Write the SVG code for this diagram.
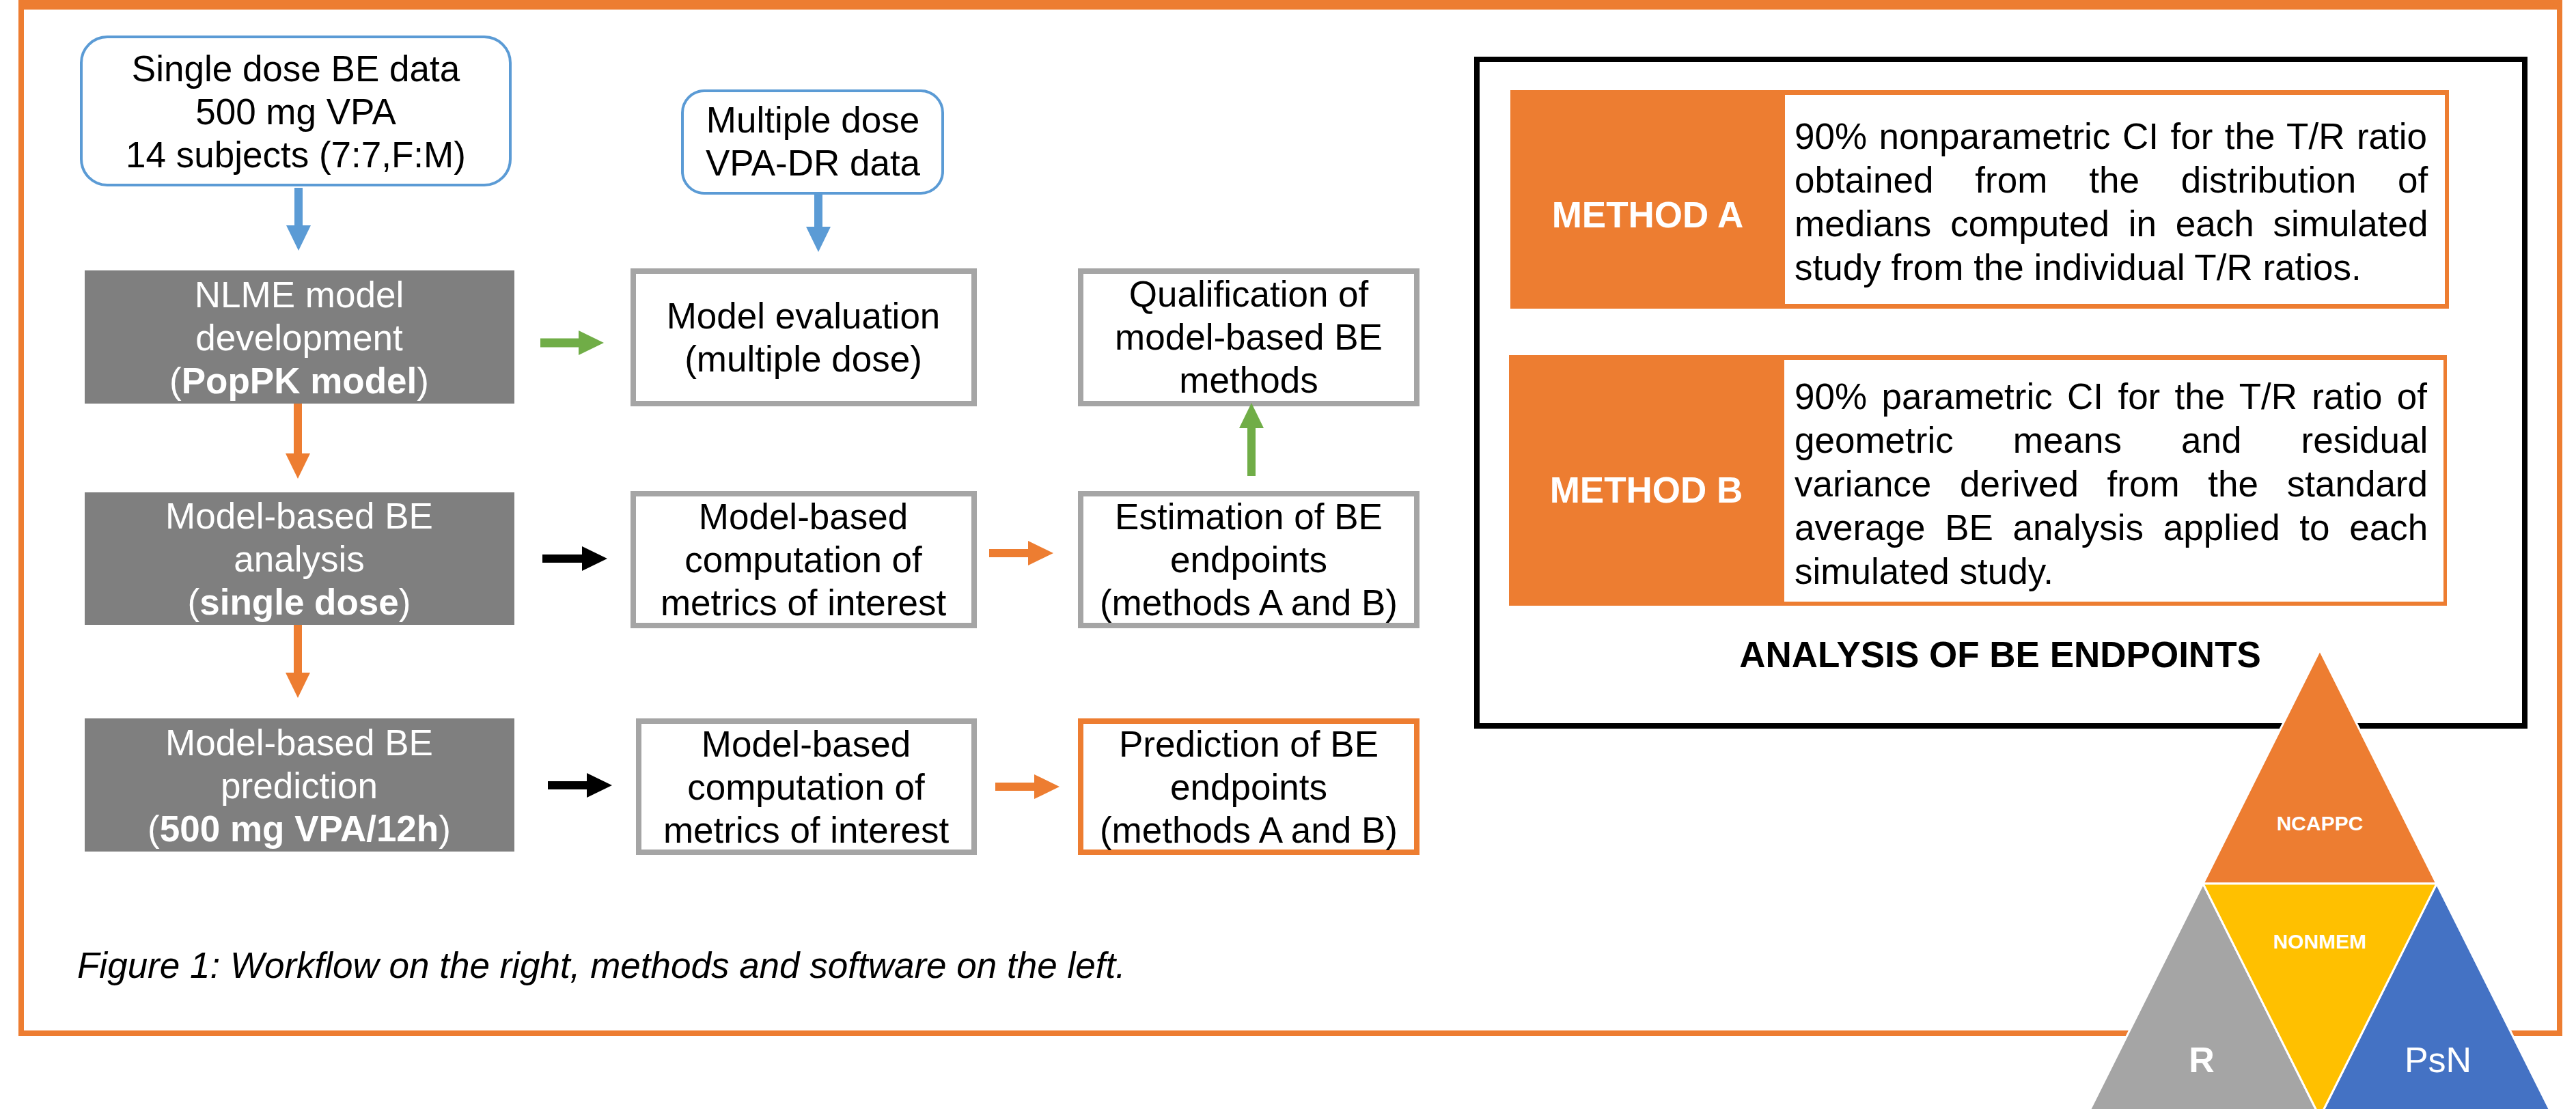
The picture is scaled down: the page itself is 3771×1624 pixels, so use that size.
<svg xmlns="http://www.w3.org/2000/svg" width="3771" height="1624" viewBox="0 0 3771 1624">
<style>
.t{font-family:"Liberation Sans",Arial,sans-serif;font-size:53px;fill:#000}
.c{text-anchor:middle}
.w{fill:#fff}
.b{font-weight:bold}
.s30{font-size:30px}
.s52{font-size:52px}
.gbox{fill:#7f7f7f}
.wbox{fill:#fff;stroke:#a5a5a5;stroke-width:8}
.obox{fill:#fff;stroke:#ed7d31;stroke-width:8}
.rbox{fill:#fff;stroke:#5b9bd5;stroke-width:4}
.conn{fill:none;stroke-width:12}
</style>
<defs>
<marker id="hBlue" markerUnits="userSpaceOnUse" viewBox="0 0 37 36" markerWidth="37" markerHeight="36" refX="1" refY="18" orient="auto"><path d="M0,0 L37,18 L0,36 z" fill="#5b9bd5"/></marker>
<marker id="hOrange" markerUnits="userSpaceOnUse" viewBox="0 0 37 36" markerWidth="37" markerHeight="36" refX="1" refY="18" orient="auto"><path d="M0,0 L37,18 L0,36 z" fill="#ed7d31"/></marker>
<marker id="hGreen" markerUnits="userSpaceOnUse" viewBox="0 0 37 36" markerWidth="37" markerHeight="36" refX="1" refY="18" orient="auto"><path d="M0,0 L37,18 L0,36 z" fill="#70ad47"/></marker>
<marker id="hBlack" markerUnits="userSpaceOnUse" viewBox="0 0 37 36" markerWidth="37" markerHeight="36" refX="1" refY="18" orient="auto"><path d="M0,0 L37,18 L0,36 z" fill="#000"/></marker>
</defs>
<rect width="3771" height="1624" fill="#fff"/>

<g id="frame" fill="#ed7d31">
<rect x="27" y="0" width="3724" height="14"/>
<rect x="27" y="0" width="8" height="1517"/>
<rect x="3743" y="0" width="8" height="1517"/>
<rect x="27" y="1509" width="3724" height="8"/>
</g>

<g id="single-dose-data">
<rect class="rbox" x="119" y="54" width="628" height="217" rx="38"/>
<text class="t c" x="433"><tspan x="433" y="119">Single dose BE data</tspan><tspan x="433" y="182">500 mg VPA</tspan><tspan x="433" y="245">14 subjects (7:7,F:M)</tspan></text>
</g>

<g id="multiple-dose-data">
<rect class="rbox" x="999" y="133" width="381" height="150" rx="32"/>
<text class="t c"><tspan x="1190" y="194">Multiple dose</tspan><tspan x="1190" y="257">VPA-DR data</tspan></text>
</g>

<g id="nlme-model">
<rect class="gbox" x="124" y="396" width="629" height="195"/>
<text class="t c w"><tspan x="438" y="450">NLME model</tspan><tspan x="438" y="513">development</tspan><tspan x="438" y="576">(<tspan class="b">PopPK model</tspan>)</tspan></text>
</g>

<g id="be-analysis">
<rect class="gbox" x="124" y="721" width="629" height="194"/>
<text class="t c w"><tspan x="438" y="774">Model-based BE</tspan><tspan x="438" y="837">analysis</tspan><tspan x="438" y="900">(<tspan class="b">single dose</tspan>)</tspan></text>
</g>

<g id="be-prediction">
<rect class="gbox" x="124" y="1052" width="629" height="195"/>
<text class="t c w"><tspan x="438" y="1106">Model-based BE</tspan><tspan x="438" y="1169">prediction</tspan><tspan x="438" y="1232">(<tspan class="b">500 mg VPA/12h</tspan>)</tspan></text>
</g>

<g id="model-evaluation">
<rect class="wbox" x="927" y="397" width="499" height="194"/>
<text class="t c"><tspan x="1176" y="481">Model evaluation</tspan><tspan x="1176" y="544">(multiple dose)</tspan></text>
</g>

<g id="qualification">
<rect class="wbox" x="1582" y="397" width="492" height="194"/>
<text class="t c"><tspan x="1828" y="449">Qualification of</tspan><tspan x="1828" y="512">model-based BE</tspan><tspan x="1828" y="575">methods</tspan></text>
</g>

<g id="computation-1">
<rect class="wbox" x="927" y="723" width="499" height="193"/>
<text class="t c"><tspan x="1176" y="775">Model-based</tspan><tspan x="1176" y="838">computation of</tspan><tspan x="1176" y="901">metrics of interest</tspan></text>
</g>

<g id="estimation">
<rect class="wbox" x="1582" y="723" width="492" height="193"/>
<text class="t c"><tspan x="1828" y="775">Estimation of BE</tspan><tspan x="1828" y="838">endpoints</tspan><tspan x="1828" y="901">(methods A and B)</tspan></text>
</g>

<g id="computation-2">
<rect class="wbox" x="935" y="1056" width="491" height="192"/>
<text class="t c"><tspan x="1180" y="1108">Model-based</tspan><tspan x="1180" y="1171">computation of</tspan><tspan x="1180" y="1234">metrics of interest</tspan></text>
</g>

<g id="prediction">
<rect class="obox" x="1582" y="1056" width="492" height="192"/>
<text class="t c"><tspan x="1828" y="1108">Prediction of BE</tspan><tspan x="1828" y="1171">endpoints</tspan><tspan x="1828" y="1234">(methods A and B)</tspan></text>
</g>

<g id="connectors" class="conn">
<line x1="437" y1="275" x2="437" y2="331" stroke="#5b9bd5" marker-end="url(#hBlue)"/>
<line x1="1198" y1="283" x2="1198" y2="333" stroke="#5b9bd5" marker-end="url(#hBlue)"/>
<line x1="436" y1="591" x2="436" y2="665" stroke="#ed7d31" marker-end="url(#hOrange)"/>
<line x1="436" y1="915" x2="436" y2="986" stroke="#ed7d31" marker-end="url(#hOrange)"/>
<line x1="791" y1="502" x2="848" y2="502" stroke="#70ad47" stroke-width="13" marker-end="url(#hGreen)"/>
<line x1="794" y1="818" x2="853" y2="818" stroke="#000" marker-end="url(#hBlack)"/>
<line x1="802" y1="1150" x2="860" y2="1150" stroke="#000" marker-end="url(#hBlack)"/>
<line x1="1448" y1="810" x2="1506" y2="810" stroke="#ed7d31" marker-end="url(#hOrange)"/>
<line x1="1457" y1="1152" x2="1515" y2="1152" stroke="#ed7d31" marker-end="url(#hOrange)"/>
<line x1="1832" y1="697" x2="1832" y2="626" stroke="#70ad47" marker-end="url(#hGreen)"/>
</g>

<text class="t" x="113" y="1432" font-style="italic">Figure 1: Workflow on the right, methods and software on the left.</text>

<g id="analysis-of-be-endpoints">
<rect x="2162" y="87" width="1534" height="976" fill="none" stroke="#000" stroke-width="8"/>
<text class="t c b" x="2928" y="977">ANALYSIS OF BE ENDPOINTS</text>
</g>

<g id="method-a">
<rect x="2211" y="132" width="1374" height="320" fill="#ed7d31"/>
<rect x="2613" y="139" width="966" height="306" fill="#fff"/>
<text class="t c w b" x="2412" y="333">METHOD A</text>
<text class="t" x="2627" y="218" word-spacing="2.8">90% nonparametric CI for the T/R ratio</text>
<text class="t" x="2627" y="282" word-spacing="46.2">obtained from the distribution of</text>
<text class="t" x="2627" y="346" word-spacing="13.1">medians computed in each simulated</text>
<text class="t" x="2627" y="410">study from the individual T/R ratios.</text>
</g>

<g id="method-b">
<rect x="2209" y="520" width="1373" height="367" fill="#ed7d31"/>
<rect x="2612" y="527" width="965" height="354" fill="#fff"/>
<text class="t c w b" x="2410" y="736">METHOD B</text>
<text class="t" x="2627" y="599" word-spacing="6.6">90% parametric CI for the T/R ratio of</text>
<text class="t" x="2627" y="663" word-spacing="72.4">geometric means and residual</text>
<text class="t" x="2627" y="727" word-spacing="27.0">variance derived from the standard</text>
<text class="t" x="2627" y="791" word-spacing="13.95">average BE analysis applied to each</text>
<text class="t" x="2627" y="855">simulated study.</text>
</g>

<g id="software-triangle" stroke="#fff" stroke-width="3" stroke-linejoin="miter">
<polygon points="3396,952 3225,1294 3567,1294" fill="#ed7d31"/>
<polygon points="3225,1294 3054,1636 3396,1636" fill="#a5a5a5"/>
<polygon points="3567,1294 3396,1636 3738,1636" fill="#4472c4"/>
<polygon points="3225,1294 3567,1294 3396,1636" fill="#ffc000"/>
</g>
<g id="software-labels">
<text class="t c w b s30" x="3396" y="1216">NCAPPC</text>
<text class="t c w b s30" x="3396" y="1389">NONMEM</text>
<text class="t c w b s52" x="3223" y="1570">R</text>
<text class="t c w s52" x="3569" y="1570">PsN</text>
</g>
</svg>
